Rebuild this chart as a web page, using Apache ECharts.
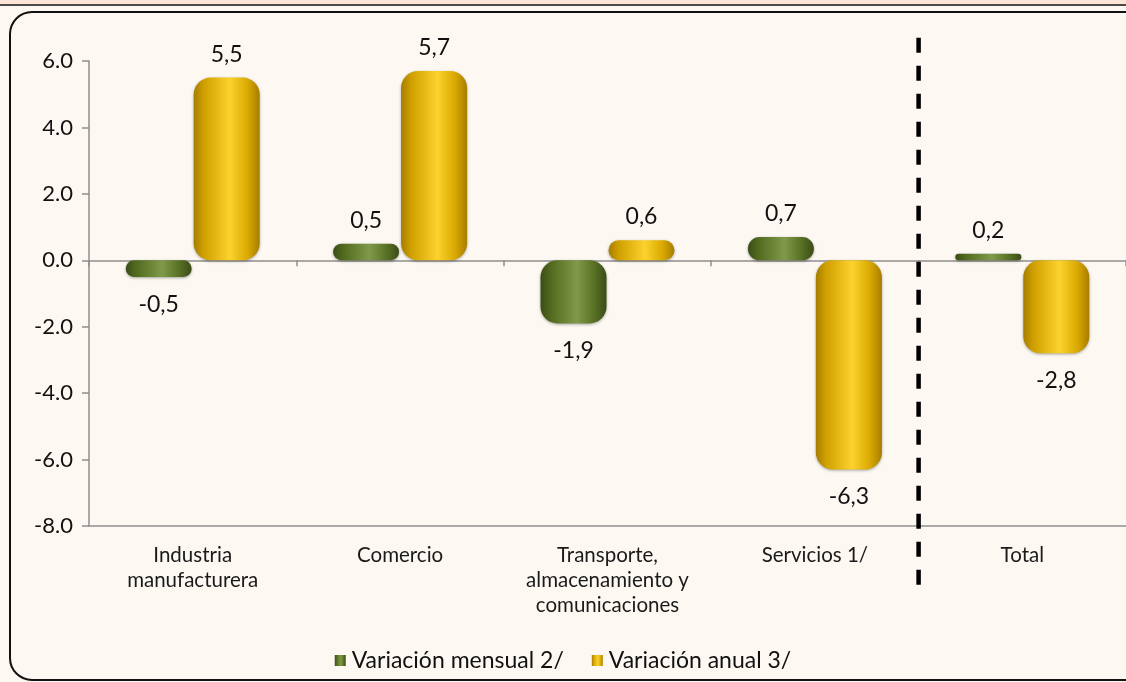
<!DOCTYPE html>
<html>
<head>
<meta charset="utf-8">
<script src="https://cdn.jsdelivr.net/npm/echarts@6/dist/echarts.min.js"></script>
<style>
  html, body { margin: 0; padding: 0; background: #FDF9F2; }
  #chart { width: 1126px; height: 682px; }
</style>
</head>
<body>
<div id="chart"></div>
<script>
// ---- data ----
const categories = ['Industria\nmanufacturera', 'Comercio', 'Transporte,\nalmacenamiento y\ncomunicaciones', 'Servicios 1/', 'Total'];
const seriesNames = ['Variación mensual 2/', 'Variación anual 3/'];
const mensual = [-0.5, 0.5, -1.9, 0.7, 0.2];
const anual = [5.5, 5.7, 0.6, -6.3, -2.8];
const yTicks = { min: -8, max: 6, interval: 2 };
const dividerAfterIndex = 3;          // dashed separator after "Servicios 1/"
const dividerSpan = [6.7, -9.8];      // vertical extent in axis units

// ---- styles ----
const FONT = 'Lato';
const greenGrad = new echarts.graphic.LinearGradient(0, 0, 1, 0, [
  { offset: 0, color: '#3B4C17' },
  { offset: 0.15, color: '#51691E' },
  { offset: 0.55, color: '#7F9A4A' },
  { offset: 0.82, color: '#576F23' },
  { offset: 1, color: '#3B4C17' }
]);
const yellowGrad = new echarts.graphic.LinearGradient(0, 0, 1, 0, [
  { offset: 0, color: '#A67D00' },
  { offset: 0.15, color: '#CF9F00' },
  { offset: 0.55, color: '#FCD22E' },
  { offset: 0.82, color: '#D9A900' },
  { offset: 1, color: '#A67D00' }
]);

function fmtComma(v) { return v.toFixed(1).replace('.', ','); }

function makeData(arr) {
  return arr.map(v => ({
    value: v,
    label: { position: v >= 0 ? 'top' : 'bottom', distance: v >= 0 ? 12 : 16 }
  }));
}

const chart = echarts.init(document.getElementById('chart'), null, { renderer: 'canvas' });

const option = {
  backgroundColor: '#FDF9F2',
  animation: false,
  textStyle: { fontFamily: FONT },
  graphic: [
    { type: 'rect', z: -10, shape: { x: 0, y: 0, width: 1126, height: 4 }, style: { fill: '#FCE4D6' } },
    { type: 'line', z: -10, shape: { x1: 0, y1: 5, x2: 1126, y2: 5 }, style: { stroke: '#111', lineWidth: 1.5 } },
    { type: 'rect', z: -10, shape: { x: 10, y: 12, width: 1160, height: 668, r: 22 }, style: { fill: '#FDF9F2', stroke: '#111', lineWidth: 2 } }
  ],
  grid: { left: 89, top: 61, width: 1040, height: 465, containLabel: false },
  legend: {
    data: seriesNames,
    left: 'center',
    top: 644,
    itemWidth: 11,
    itemHeight: 11,
    itemGap: 28,
    icon: 'rect',
    textStyle: { fontFamily: FONT, fontSize: 23, color: '#111', padding: [0, 0, 0, 1] }
  },
  xAxis: [
    {
      type: 'category',
      data: categories,
      position: 'bottom',
      axisLine: { onZero: false, lineStyle: { color: '#8E8E8E', width: 1.5 } },
      axisTick: { show: false },
      axisLabel: { interval: 0, margin: 17, fontFamily: FONT, fontSize: 20.5, lineHeight: 25, color: '#1a1a1a' },
      splitLine: { show: false }
    },
    {
      type: 'category',
      data: categories,
      position: 'bottom',
      axisLine: { onZero: true, lineStyle: { color: '#8E8E8E', width: 1.5 } },
      axisTick: { show: true, length: 6, lineStyle: { color: '#8E8E8E', width: 1.5 } },
      axisLabel: { show: false },
      splitLine: { show: false }
    }
  ],
  yAxis: {
    type: 'value',
    min: yTicks.min,
    max: yTicks.max,
    interval: yTicks.interval,
    axisLine: { show: true, lineStyle: { color: '#8E8E8E', width: 1.5 } },
    axisTick: { show: true, length: 7, lineStyle: { color: '#8E8E8E', width: 1.5 } },
    axisLabel: { margin: 16, fontFamily: FONT, fontSize: 22, color: '#111', formatter: v => v.toFixed(1) },
    splitLine: { show: false }
  },
  series: [
    {
      name: seriesNames[0],
      type: 'bar',
      xAxisIndex: 0,
      data: makeData(mensual),
      barWidth: 66,
      barGap: '3%',
      itemStyle: { color: greenGrad, borderRadius: 17, shadowBlur: 3, shadowColor: 'rgba(0,0,0,0.35)', shadowOffsetY: 1 },
      label: { show: true, fontFamily: FONT, fontSize: 23, color: '#111', formatter: p => fmtComma(p.value) },
      z: 3
    },
    {
      name: seriesNames[1],
      type: 'bar',
      xAxisIndex: 0,
      data: makeData(anual),
      barWidth: 66,
      barGap: '3%',
      itemStyle: { color: yellowGrad, borderRadius: 17, shadowBlur: 3, shadowColor: 'rgba(0,0,0,0.35)', shadowOffsetY: 1 },
      label: { show: true, fontFamily: FONT, fontSize: 23, color: '#111', formatter: p => fmtComma(p.value) },
      z: 3
    },
    {
      name: 'divider',
      type: 'custom',
      xAxisIndex: 0,
      clip: false,
      silent: true,
      z: 5,
      data: [[dividerAfterIndex, dividerSpan[0], dividerSpan[1]]],
      renderItem: function (params, api) {
        const p1 = api.coord([api.value(0), api.value(1)]);
        const p2 = api.coord([api.value(0), api.value(2)]);
        const half = api.size([1, 0])[0] / 2;
        const x = p1[0] + half;
        return {
          type: 'line',
          shape: { x1: x, y1: p1[1], x2: x, y2: p2[1] },
          style: { stroke: '#000', lineWidth: 4.5, lineDash: [15, 13] }
        };
      }
    }
  ]
};

chart.setOption(option);
</script>
</body>
</html>
